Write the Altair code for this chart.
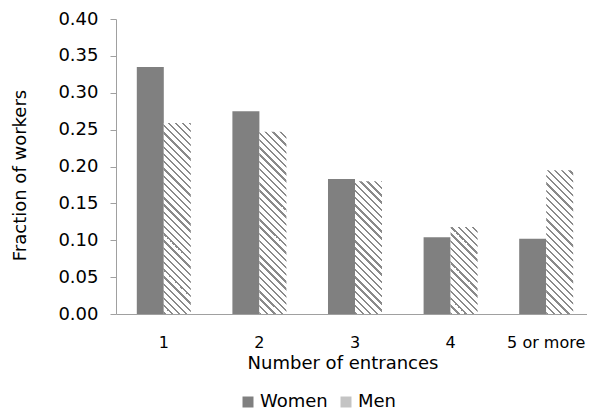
import altair as alt
import pandas as pd

# ---- data ----
categories = ["1", "2", "3", "4", "5 or more"]
series = ["Women", "Men"]
women = [0.335, 0.275, 0.183, 0.104, 0.102]
men = [0.259, 0.247, 0.180, 0.118, 0.195]
y_ticks = [0.00, 0.05, 0.10, 0.15, 0.20, 0.25, 0.30, 0.35, 0.40]

# ---- style ----
FONT = "DejaVu Sans"
FS = 18
X_LABEL_FS = 16
PLOT_W = 478
VIEW_W = 471
PLOT_H = 295
Y_MAX = 0.40
PAD_INNER = 0.435
STEP = PLOT_W / len(categories)
BAR_W = STEP * (1 - PAD_INNER) / 2
GRAY = "#808080"
HATCH_GRAY = "#8a8a8a"
AXIS_GRAY = "#a0a0a0"
HATCH_PERIOD = 7.2
HATCH_DARK = 0.32


def hatch(value):
    """Diagonal '\\' hatch as a striped linear gradient for one bar."""
    w = BAR_W
    h = value / Y_MAX * PLOT_H
    r = h / w
    k = (1 + r) / (1 + r * r)
    n = (w + h) / HATCH_PERIOD
    stops = []
    i = 0
    while i < n:
        a = min(i / n, 1)
        b = min((i + HATCH_DARK) / n, 1)
        c = min((i + 1) / n, 1)
        stops += [
            {"offset": a, "color": HATCH_GRAY},
            {"offset": b, "color": HATCH_GRAY},
            {"offset": b, "color": "#ffffff"},
            {"offset": c, "color": "#ffffff"},
        ]
        i += 1
    return {"gradient": "linear", "x1": 0, "y1": 1, "x2": k, "y2": 1 - k * r,
            "stops": stops}


rows = []
for c, wv, mv in zip(categories, women, men):
    rows.append({"cat": c, "g": "Women", "v": wv})
    rows.append({"cat": c, "g": "Men", "v": mv})
df = pd.DataFrame(rows)

base = alt.Chart(df)

x_enc = alt.X(
    "cat:N", sort=categories,
    scale=alt.Scale(domain=categories, range=[0, PLOT_W],
                    paddingInner=PAD_INNER, paddingOuter=PAD_INNER / 2),
    axis=alt.Axis(title="Number of entrances", ticks=False, tickSize=0,
                  labelAngle=0, labelPadding=20, labelFont=FONT,
                  labelFontSize=X_LABEL_FS,
                  labelColor="#000000", domainColor=AXIS_GRAY, domainWidth=1,
                  titleFont=FONT, titleFontSize=FS, titleFontWeight="normal",
                  titleColor="#000000", titleX=226.5, titleY=49.5,
                  titleAlign="center", titleBaseline="middle"),
)
y_enc = alt.Y(
    "v:Q",
    scale=alt.Scale(domain=[0, Y_MAX], nice=False, zero=True),
    axis=alt.Axis(values=y_ticks, format=".2f", title="Fraction of workers",
                  grid=False, domainColor=AXIS_GRAY, tickColor=AXIS_GRAY,
                  tickSize=6, labelPadding=12, labelFont=FONT, labelFontSize=FS,
                  labelColor="#000000", titleFont=FONT, titleFontSize=FS,
                  titleFontWeight="normal", titleColor="#000000",
                  titleX=-96, titleY=156, titleAngle=270,
                  titleAlign="center", titleBaseline="middle"),
)

conds = [
    {"test": f"datum.g === 'Men' && datum.cat === '{c}'", "value": hatch(m)}
    for c, m in zip(categories, men)
]

bars = base.mark_bar(strokeWidth=0).encode(
    x=x_enc,
    xOffset=alt.XOffset("g:N", sort=series,
                        scale=alt.Scale(domain=series, paddingInner=0, paddingOuter=0)),
    y=y_enc,
    fill=alt.FillValue(GRAY, condition=conds),
)

legend_layer = base.mark_bar().encode(
    color=alt.Color(
        "g:N",
        scale=alt.Scale(domain=series, range=[GRAY, "#c4c4c4"]),
        legend=alt.Legend(
            title=None, orient="none", direction="horizontal",
            legendX=123, legendY=374, symbolType="square", symbolSize=121,
            symbolStrokeWidth=0, labelFont=FONT, labelFontSize=FS,
            labelColor="#000000", labelOffset=3, columnPadding=9, padding=0,
        ),
    )
).transform_filter("false")

chart = alt.layer(bars, legend_layer).properties(
    width=VIEW_W, height=PLOT_H,
    padding={"left": 108, "top": 11, "right": 0, "bottom": 97},
    autosize=alt.AutoSizeParams(type="none"),
).configure_view(stroke=None)

chart.save("out.html", embed_options={"renderer": "svg", "actions": False})
